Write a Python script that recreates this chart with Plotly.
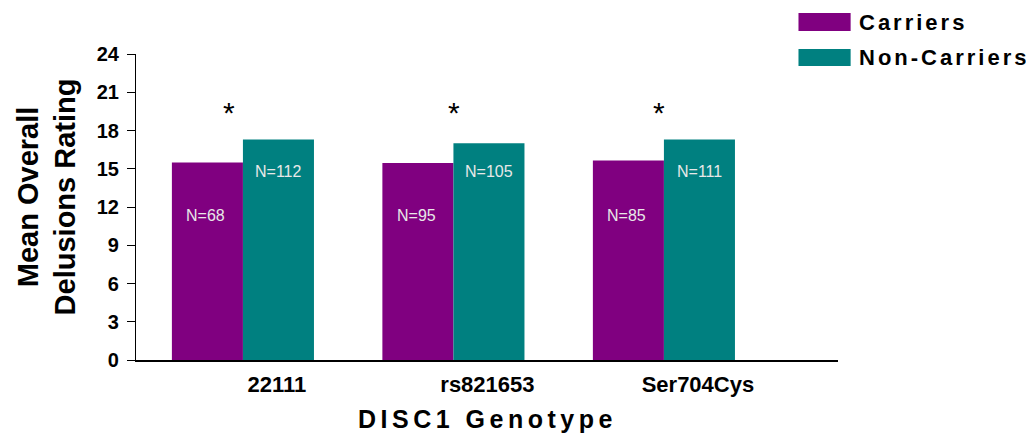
import plotly.graph_objects as go

categories = ["22111", "rs821653", "Ser704Cys"]
carriers = [15.5, 15.45, 15.65]
non_carriers = [17.3, 17.0, 17.3]
carrier_n = ["N=68", "N=95", "N=85"]
non_carrier_n = ["N=112", "N=105", "N=111"]
sig_marks = ["*", "*", "*"]
y_ticks = [0, 3, 6, 9, 12, 15, 18, 21, 24]

PURPLE = "#800080"
TEAL = "#008080"
FONT = "Liberation Sans, Arial, sans-serif"

fig = go.Figure()
fig.add_trace(go.Bar(x=categories, y=carriers, name="Carriers",
                     marker=dict(color=PURPLE, line=dict(width=0))))
fig.add_trace(go.Bar(x=categories, y=non_carriers, name="Non-Carriers",
                     marker=dict(color=TEAL, line=dict(width=0))))

annotations = []
# N labels at fixed heights inside bars (x given as category index)
for i, cat in enumerate(categories):
    annotations.append(dict(x=i, y=11.37, xref="x", yref="y", text=carrier_n[i],
                            showarrow=False, xshift=-37,
                            font=dict(family=FONT, size=16, color="#e8e8e8"),
                            xanchor="center", yanchor="middle"))
    annotations.append(dict(x=i, y=14.75, xref="x", yref="y", text=non_carrier_n[i],
                            showarrow=False, xshift=35.5,
                            font=dict(family=FONT, size=16, color="#e8e8e8"),
                            xanchor="center", yanchor="middle"))
# significance asterisks
star_shift = [-14, 1, -5]
for i, cat in enumerate(categories):
    annotations.append(dict(x=i, y=19.84, xref="x", yref="y", text=sig_marks[i],
                            showarrow=False, xshift=star_shift[i], yshift=-5,
                            font=dict(family=FONT, size=30, color="black"),
                            xanchor="center", yanchor="middle"))

# Y axis title (two lines)
annotations.append(dict(x=-0.1275, y=0.533, xref="paper", yref="paper",
                        text="Mean Overall<br>Delusions Rating", textangle=-90,
                        showarrow=False, xanchor="center", yanchor="middle",
                        font=dict(family=FONT, size=29, color="black", weight="bold")))
# X axis title
annotations.append(dict(x=0.5, y=-0.193, xref="paper", yref="paper",
                        text='<span style="letter-spacing:4.5px">DISC1 Genotype</span>',
                        showarrow=False, xanchor="center", yanchor="middle",
                        font=dict(family=FONT, size=25, color="black", weight="bold")))

# manual legend
legend_items = [("Carriers", PURPLE, 1.134, 1.075, 1.1045),
                ("Non-Carriers", TEAL, 1.016, 0.961, 0.9885)]
shapes = []
for name, color, y1, y0, yc in legend_items:
    shapes.append(dict(type="rect", xref="paper", yref="paper",
                       x0=0.9437, x1=1.018, y0=y0, y1=y1,
                       fillcolor=color, line=dict(width=0)))
    annotations.append(dict(x=1.027, y=yc, xref="paper", yref="paper",
                            text=f'<span style="letter-spacing:3px">{name}</span>',
                            showarrow=False, xanchor="left", yanchor="middle",
                            font=dict(family=FONT, size=22, color="black", weight="bold")))

# page body has an 8px margin: shrink the figure so the plot lands on the same pixels
fig.update_layout(
    width=1026, height=426,
    margin=dict(l=128, r=196, t=46, b=74),
    paper_bgcolor="white", plot_bgcolor="white",
    barmode="group", bargap=0.325, bargroupgap=0,
    showlegend=False,
    annotations=annotations, shapes=shapes,
    font=dict(family=FONT, color="black"),
)
fig.update_xaxes(
    type="category",
    range=[-0.508, 2.827], showline=True, linecolor="black", linewidth=1.5,
    ticks="", showgrid=False, zeroline=False,
    tickfont=dict(family=FONT, size=22, color="black", weight="bold"),
    ticklabelshift=34, ticklabelstandoff=4,
)
fig.update_yaxes(
    range=[0, 24], tickvals=y_ticks, showline=True, linecolor="black", linewidth=1.2,
    ticks="outside", ticklen=8, tickwidth=1.2, tickcolor="black",
    showgrid=False, zeroline=False,
    tickfont=dict(family=FONT, size=20, color="black", weight="bold"),
    ticklabelstandoff=4,
)

fig.write_html("out.html")
